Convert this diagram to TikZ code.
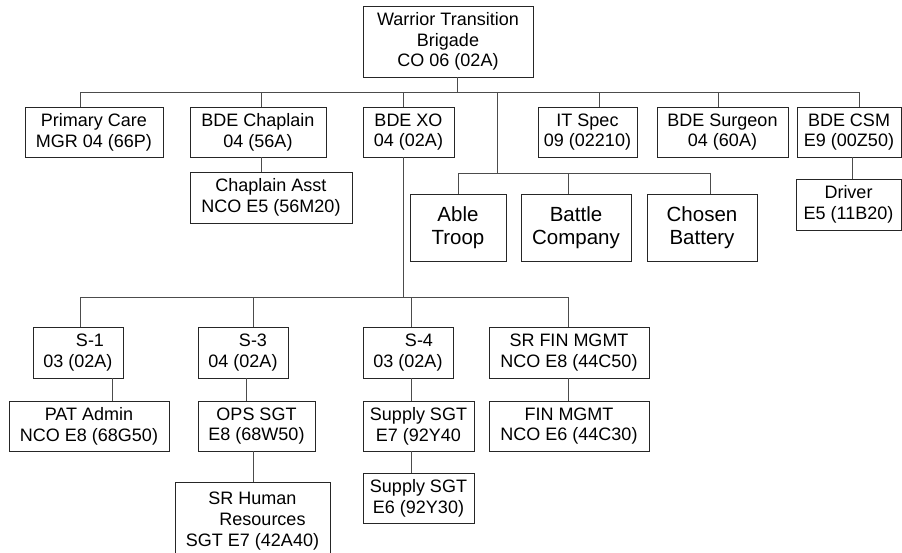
\documentclass[tikz,border=0pt]{standalone}
\usepackage{fontspec}
\setmainfont{Liberation Sans}
\begin{document}
\begin{tikzpicture}[x=1pt,y=-1pt,
  bx/.style={draw=black!85,line width=0.9pt,rectangle,inner sep=0pt,align=center,
    font=\fontsize{18}{20.7}\selectfont},
  bigbx/.style={bx,font=\fontsize{20.5}{23.5}\selectfont},
  ln/.style={draw=black!70,line width=0.9pt}]
\useasboundingbox (0,0) rectangle (902,552);
% top
\node[bx,minimum width=170pt,minimum height=71pt] (top) at (448,41.5) {Warrior Transition\\Brigade\\CO 06 (02A)};
% row 1
\node[bx,minimum width=138pt,minimum height=50pt] (pc) at (94,132) {Primary Care\\MGR 04 (66P)};
\node[bx,minimum width=136pt,minimum height=50pt] (chap) at (258,132) {BDE Chaplain\\04 (56A)};
\node[bx,minimum width=91pt,minimum height=50pt] (xo) at (408.5,132) {BDE XO\\04 (02A)};
\node[bx,minimum width=99pt,minimum height=50pt] (it) at (587.5,132) {IT Spec\\09 (02210)};
\node[bx,minimum width=131pt,minimum height=50pt] (surg) at (722.5,132) {BDE Surgeon\\04 (60A)};
\node[bx,minimum width=104pt,minimum height=50pt] (csm) at (849,132) {BDE CSM\\E9 (00Z50)};
% row 2
\node[bx,minimum width=162pt,minimum height=51pt] (casst) at (271,197.5) {Chaplain Asst\\NCO E5 (56M20)};
\node[bx,minimum width=105pt,minimum height=51pt] (driver) at (848.5,204.5) {Driver\\E5 (11B20)};
\node[bigbx,minimum width=96pt,minimum height=67pt] (able) at (458,227.5) {Able\\Troop};
\node[bigbx,minimum width=110pt,minimum height=67pt] (battle) at (576,227.5) {Battle\\Company};
\node[bigbx,minimum width=110pt,minimum height=67pt] (chosen) at (702,227.5) {Chosen\\Battery};
% row 3
\node[bx,minimum width=90pt,minimum height=51pt] (s1) at (78,352.5) {\hspace*{24pt}S-1\\03 (02A)};
\node[bx,minimum width=90pt,minimum height=51pt] (s3) at (243,352.5) {\hspace*{20pt}S-3\\04 (02A)};
\node[bx,minimum width=90pt,minimum height=51pt] (s4) at (408,352.5) {\hspace*{22pt}S-4\\03 (02A)};
\node[bx,minimum width=160pt,minimum height=51pt] (srfin) at (569,352.5) {SR FIN MGMT\\NCO E8 (44C50)};
% row 4
\node[bx,minimum width=160pt,minimum height=50pt] (pat) at (89,426) {PAT Admin\\NCO E8 (68G50)};
\node[bx,minimum width=117pt,minimum height=50pt] (ops) at (256.5,426) {OPS SGT\\E8 (68W50)};
\node[bx,minimum width=111pt,minimum height=50pt] (sup7) at (418.5,426) {Supply SGT\\E7 (92Y40};
\node[bx,minimum width=160pt,minimum height=50pt] (fin) at (569,426) {FIN MGMT\\NCO E6 (44C30)};
% row 5
\node[bx,minimum width=111pt,minimum height=50pt] (sup6) at (418.5,498) {Supply SGT\\E6 (92Y30)};
\node[bx,minimum width=155pt,minimum height=78pt] (hr) at (252.5,521) {SR Human\\\hspace*{20pt}Resources\\SGT E7 (42A40)};
% buses
\coordinate (b1l) at (80,92);
\coordinate (b1r) at (859,92);
\coordinate (b2l) at (458,173);
\coordinate (b2r) at (710,173);
\coordinate (b3l) at (80,297);
\coordinate (b3r) at (568,297);
\draw[ln] (b1l) -- (b1r);
\draw[ln] (b2l) -- (b2r);
\draw[ln] (b3l) -- (b3r);
\draw[ln] (top.south -| 457,0) -- (457,92);
\draw[ln] (80,92) -- (pc.north -| 80,0);
\draw[ln] (261,92) -- (chap.north -| 261,0);
\draw[ln] (403,92) -- (xo.north -| 403,0);
\draw[ln] (599,92) -- (it.north -| 599,0);
\draw[ln] (718,92) -- (surg.north -| 718,0);
\draw[ln] (b1r) -- (csm.north -| b1r);
\draw[ln] (497,92) -- (497,173);
\draw[ln] (b2l) -- (able.north -| b2l);
\draw[ln] (568,173) -- (battle.north -| 568,0);
\draw[ln] (b2r) -- (chosen.north -| b2r);
\draw[ln] (chap.south -| 261,0) -- (casst.north -| 261,0);
\draw[ln] (csm.south -| 852,0) -- (driver.north -| 852,0);
\draw[ln] (xo.south -| 403,0) -- (403,297);
\draw[ln] (b3l) -- (s1.north -| b3l);
\draw[ln] (253,297) -- (s3.north -| 253,0);
\draw[ln] (411,297) -- (s4.north -| 411,0);
\draw[ln] (b3r) -- (srfin.north -| b3r);
\draw[ln] (s1.south -| 112,0) -- (pat.north -| 112,0);
\draw[ln] (s3.south -| 246,0) -- (ops.north -| 246,0);
\draw[ln] (ops.south -| 253,0) -- (hr.north -| 253,0);
\draw[ln] (s4.south -| 411,0) -- (sup7.north -| 411,0);
\draw[ln] (sup7.south -| 411,0) -- (sup6.north -| 411,0);
\draw[ln] (srfin.south -| 568,0) -- (fin.north -| 568,0);
\end{tikzpicture}
\end{document}
